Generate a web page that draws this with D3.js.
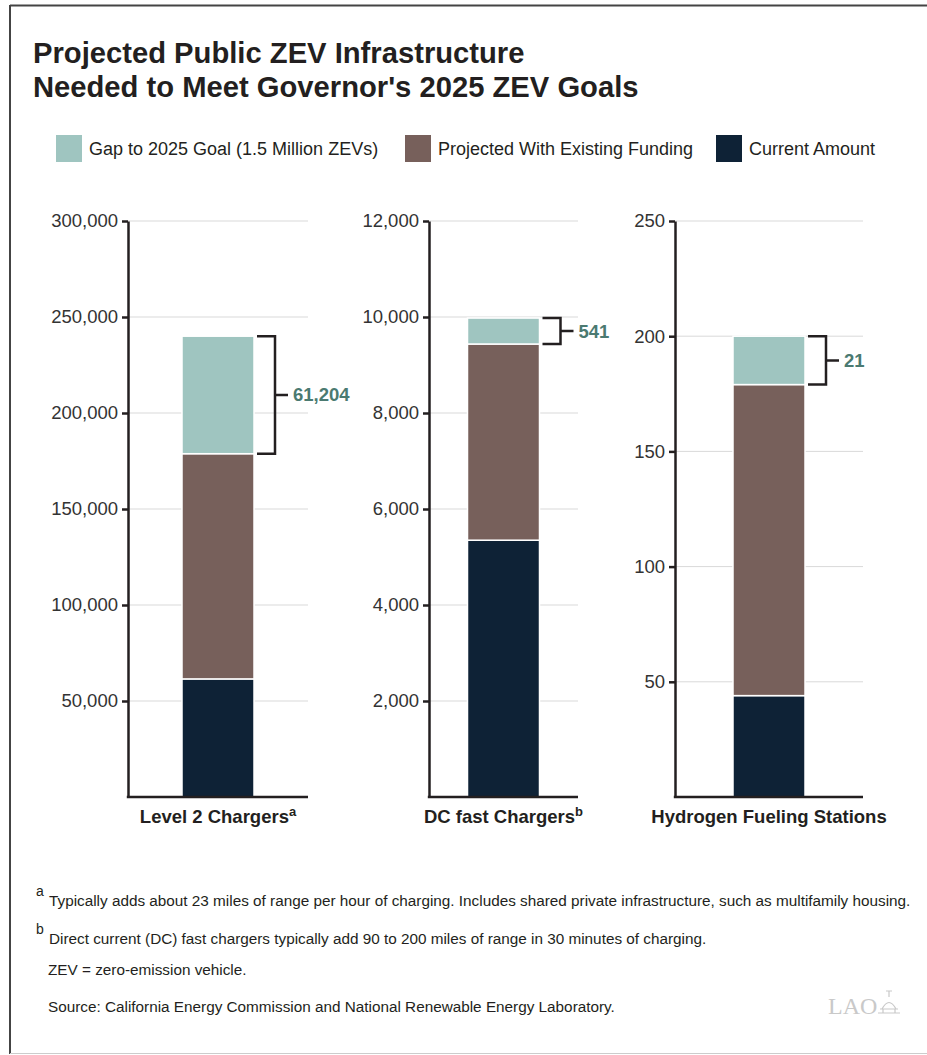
<!DOCTYPE html>
<html lang="en">
<head>
    <meta charset="UTF-8">
    <title>Projected Public ZEV Infrastructure</title>
    <script src="https://d3js.org/d3.v7.min.js"></script>
    <style>
        body { margin: 0; background: #fff; font-family: "Liberation Sans", Arial, sans-serif; }
        svg { display: block; }
    </style>
</head>
<body>
    <svg width="927" height="1055"></svg>

    <script>
        // Data
        const categories = ["Level 2 Chargers", "DC fast Chargers", "Hydrogen Fueling Stations"];
        const footMarks = ["a", "b", ""];
        const currentAmount = [61500, 5350, 44];
        const projectedAdded = [117300, 4087, 135];
        const gapToGoal = [61204, 541, 21];
        const yMax = [300000, 12000, 250];
        const yTicks = [
            [50000, 100000, 150000, 200000, 250000, 300000],
            [2000, 4000, 6000, 8000, 10000, 12000],
            [50, 100, 150, 200, 250]
        ];
        const seriesNames = ["Gap to 2025 Goal (1.5 Million ZEVs)", "Projected With Existing Funding", "Current Amount"];
        const colors = {gap: "#9fc5c0", proj: "#77605b", cur: "#0e2236"};

        const svg = d3.select("svg");
        const ink = "#231f20";

        // frame
        svg.append("line").attr("x1", 10).attr("x2", 927).attr("y1", 5.5).attr("y2", 5.5)
            .attr("stroke", "#444").attr("stroke-width", 2);
        svg.append("line").attr("x1", 10).attr("x2", 10).attr("y1", 5).attr("y2", 1054)
            .attr("stroke", "#444").attr("stroke-width", 2);
        svg.append("line").attr("x1", 10).attr("x2", 927).attr("y1", 1053.5).attr("y2", 1053.5)
            .attr("stroke", "#ccc").attr("stroke-width", 1);

        // title
        const title = svg.append("text").attr("x", 33).attr("font-weight", "bold")
            .attr("font-size", 29.2).attr("fill", ink);
        title.append("tspan").attr("x", 33).attr("y", 63).text("Projected Public ZEV Infrastructure");
        title.append("tspan").attr("x", 33).attr("y", 97).text("Needed to Meet Governor's 2025 ZEV Goals");

        // legend
        const legendX = [56, 405, 716];
        const legendColors = [colors.gap, colors.proj, colors.cur];
        seriesNames.forEach((name, i) => {
            svg.append("rect").attr("x", legendX[i]).attr("y", 135).attr("width", 26).attr("height", 27)
                .attr("fill", legendColors[i]);
            svg.append("text").attr("x", legendX[i] + 33).attr("y", 155)
                .attr("font-size", 18).attr("fill", ink).text(name);
        });

        // panels
        const axisLeftX = [128, 429, 675];
        const axisRightX = [308, 578, 863];
        const plotTop = 221, plotBottom = 797, barW = 72;

        categories.forEach((cat, i) => {
            const g = svg.append("g");
            const x = d3.scaleBand().domain([cat]).range([axisLeftX[i], axisRightX[i]]);
            const y = d3.scaleLinear().domain([0, yMax[i]]).range([plotBottom, plotTop]);
            const cx = x(cat) + x.bandwidth() / 2;
            const bx = cx - barW / 2;

            // grid
            g.selectAll(".grid").data(yTicks[i]).join("line")
                .attr("x1", axisLeftX[i]).attr("x2", axisRightX[i])
                .attr("y1", d => y(d)).attr("y2", d => y(d))
                .attr("stroke", "#d9d9d9").attr("stroke-width", 1);

            // stacked segments
            const segs = [
                {v0: 0, v1: currentAmount[i], c: colors.cur},
                {v0: currentAmount[i], v1: currentAmount[i] + projectedAdded[i], c: colors.proj},
                {v0: currentAmount[i] + projectedAdded[i], v1: currentAmount[i] + projectedAdded[i] + gapToGoal[i], c: colors.gap}
            ];
            g.selectAll(".seg").data(segs).join("rect")
                .attr("x", bx).attr("width", barW)
                .attr("y", d => y(d.v1)).attr("height", d => y(d.v0) - y(d.v1))
                .attr("fill", d => d.c).attr("stroke", "#fff").attr("stroke-width", 1.5);

            // y axis
            const ax = g.append("g").attr("transform", `translate(${axisLeftX[i]},0)`)
                .call(d3.axisLeft(y).tickValues(yTicks[i]).tickSize(6).tickSizeOuter(0).tickPadding(4)
                    .tickFormat(d3.format(",")));
            ax.select(".domain").attr("stroke", ink).attr("stroke-width", 2.5);
            ax.selectAll(".tick line").attr("stroke", ink).attr("stroke-width", 2.5);
            ax.selectAll(".tick text").attr("font-size", 18.5).attr("fill", "#333")
                .attr("font-family", "'Liberation Sans', Arial, sans-serif");

            // baseline
            g.append("line").attr("x1", axisLeftX[i] - 1.2).attr("x2", axisRightX[i])
                .attr("y1", plotBottom).attr("y2", plotBottom)
                .attr("stroke", ink).attr("stroke-width", 2.5);

            // bracket for gap
            const yT = y(segs[2].v1), yB = y(segs[2].v0);
            const vx = bx + barW + 21;
            g.append("path")
                .attr("d", `M${bx + barW + 3},${yT} H${vx} V${yB} H${bx + barW + 3} M${vx},${(yT + yB) / 2} H${vx + 13}`)
                .attr("fill", "none").attr("stroke", ink).attr("stroke-width", 2.5);
            g.append("text").attr("x", vx + 18).attr("y", (yT + yB) / 2 + 6.5)
                .attr("font-size", 18.5).attr("font-weight", "bold").attr("fill", "#4b7a71")
                .text(d3.format(",")(gapToGoal[i]));

            // category label
            const lab = g.append("text").attr("x", cx).attr("y", 823).attr("text-anchor", "middle")
                .attr("font-size", 18.5).attr("font-weight", "bold").attr("fill", ink);
            lab.append("tspan").text(cat);
            if (footMarks[i]) lab.append("tspan").attr("dy", -7).attr("font-size", 13).text(footMarks[i]);
        });

        // footnotes
        const notes = svg.append("g").attr("fill", ink).attr("font-size", 15.3);
        notes.append("text").attr("x", 36).attr("y", 896).attr("font-size", 14).text("a");
        notes.append("text").attr("x", 49).attr("y", 906)
            .text("Typically adds about 23 miles of range per hour of charging. Includes shared private infrastructure, such as multifamily housing.");
        notes.append("text").attr("x", 36).attr("y", 934).attr("font-size", 14).text("b");
        notes.append("text").attr("x", 49).attr("y", 944)
            .text("Direct current (DC) fast chargers typically add 90 to 200 miles of range in 30 minutes of charging.");
        notes.append("text").attr("x", 48).attr("y", 975).text("ZEV = zero-emission vehicle.");
        notes.append("text").attr("x", 48).attr("y", 1012)
            .text("Source: California Energy Commission and National Renewable Energy Laboratory.");

        // LAO mark
        const logo = svg.append("g").attr("fill", "#c9c9c9").attr("stroke", "#c9c9c9");
        logo.append("text").attr("x", 828).attr("y", 1014).attr("stroke", "none")
            .attr("font-family", "'Liberation Serif', serif").attr("font-size", 24).text("LAO");
        logo.append("path").attr("fill", "none").attr("stroke-width", 1.2)
            .attr("d", "M878,1013 H900 M880,1009 H898 M882,1009 Q889,996 896,1009 M889,997 V991 M886,991 H892 M883,1013 V1009 M895,1013 V1009");
    </script>
</body>
</html>
